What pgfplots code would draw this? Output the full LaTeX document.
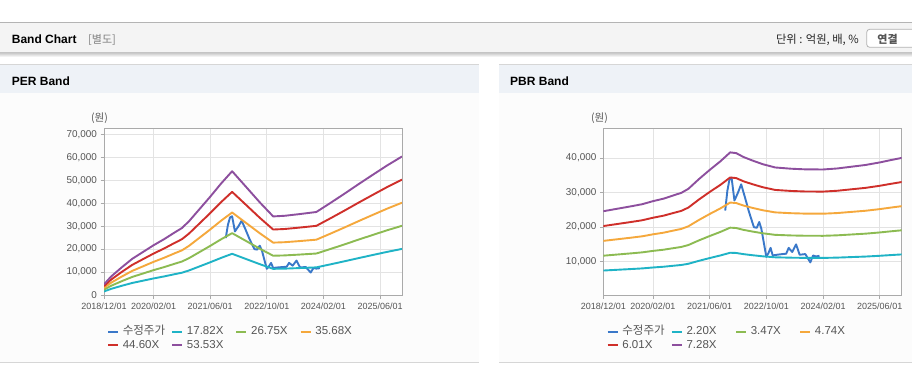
\documentclass[border=0pt]{standalone}
\usepackage{pgfplots}
\pgfplotsset{compat=1.18}
\usepackage{pgfplotstable}
\usepackage{fontspec}
\setmainfont{Liberation Sans}
\newfontfamily\kr{Noto Sans CJK KR}

\definecolor{hdrbg}{HTML}{F4F4F4}
\definecolor{hdrtop}{HTML}{B4B4B4}
\definecolor{hdrbot}{HTML}{C4C4C4}
\definecolor{panelhdr}{HTML}{EEF2F7}
\definecolor{panelbody}{HTML}{FCFCFC}
\definecolor{panelline}{HTML}{D6D6D6}
\definecolor{axisgray}{HTML}{AAAAAA}
\definecolor{gridgray}{HTML}{E3E3E3}
\definecolor{lblgray}{HTML}{555555}
\definecolor{cPrice}{HTML}{3A78C9}
\definecolor{cA}{HTML}{1FB3C6}
\definecolor{cB}{HTML}{8CBB52}
\definecolor{cC}{HTML}{F5A83C}
\definecolor{cD}{HTML}{CF2F2A}
\definecolor{cE}{HTML}{8D4F9E}

% month index: 0 = 2018/12
\pgfplotstableread{
m a b c d e
0 1550 2327 3104 3880 4657
2 2673 4013 5352 6690 8030
5 4010 6019 8028 10035 12044
8 5257 7891 10526 13157 15791
11 6237 9363 12488 15610 18736
14 7217 10834 14450 18063 21680
17 8108 12171 16234 20293 24356
20 9088 13643 18197 22746 27300
22 9712 14579 19446 24307 29174
24 10692 16050 21408 26760 32118
27 12474 18725 24976 31220 37471
30 14256 21400 28544 35680 42824
33 16127 24209 32290 40363 48445
36.2 17963 26964 35965 44957 53958
40 15771 23674 31577 39471 47374
44 13454 20196 26938 33673 40415
47.8 11405 17120 22835 28544 34259
51 11494 17254 23014 28767 34527
55 11726 17602 23477 29347 35223
60 12046 18083 24120 30150 36186
64 13365 20063 26760 33450 40148
68 14719 22096 29472 36840 44216
72 16109 24182 32255 40318 48391
76 17464 26215 34966 43708 52459
80 18800 28221 37642 47053 56474
84.2 20101 30174 40247 50309 60382
}\pertable

\pgfplotstableread{
m a b c d e
0 7436 11729 16021 20314 24606
4 7656 12076 16495 20915 25334
8 7876 12423 16969 21516 26062
11 8052 12700 17348 21997 26645
14 8316 13117 17917 22718 27518
17 8536 13464 18391 23319 28246
20 8844 13949 19055 24160 29266
22 9042 14262 19481 24701 29921
24 9394 14817 20240 25663 31086
27 10252 16170 22088 28007 33925
30 11044 17419 23795 30170 36546
33 11792 18599 25406 32214 39021
35.8 12584 19848 27113 34377 41642
37.5 12518 19744 26971 34197 41423
39.5 12188 19224 26260 33295 40331
42 11880 18738 25596 32454 39312
45 11550 18218 24885 31553 38220
48.5 11264 17766 24269 30771 37274
53 11154 17593 24032 30471 36910
57 11099 17506 23913 30320 36728
62 11088 17489 23890 30290 36691
66 11176 17628 24079 30531 36982
70 11330 17871 24411 30952 37492
74 11484 18113 24743 31372 38002
78 11704 18460 25217 31973 38730
81 11902 18773 25643 32514 39385
84.2 12100 19085 26070 33055 40040
}\pbrtable

\pgfplotstableread{
m p
34.4 24800
35.0 30500
35.6 33800
36.2 34300
37.0 27700
38.0 30000
38.9 32400
40.0 28500
41.0 24800
41.7 22500
42.5 20000
43.3 19800
44.0 21500
44.6 19500
45.2 16000
46.0 11400
46.6 12500
47.2 14000
47.8 11800
49.0 12000
50.5 12200
51.6 12300
52.3 14000
53.3 12800
54.4 15000
55.4 12000
57.0 12200
58.4 9800
59.2 11800
60.0 11500
61.0 11700
}\pricetable

\newcommand\lgtext[1]{\makebox[52pt][l]{\hspace{3.6pt}#1}}

\pgfplotsset{
  bandaxis/.style={
    scale only axis,
    xmin=0, xmax=84.2,
    axis background/.style={fill=white},
    axis line style={draw=axisgray, line width=0.8pt},
    grid=major,
    major grid style={draw=gridgray, line width=0.8pt},
    xtick={0,14,30,46,62,78},
    xticklabels={2018/12/01,2020/02/01,2021/06/01,2022/10/01,2024/02/01,2025/06/01},
    tick align=outside, tick pos=left,
    major tick length=3.5pt,
    tick style={draw=axisgray, line width=0.8pt},
    xticklabel style={font=\fontsize{9}{10}\selectfont, text=lblgray, yshift=-1pt},
    yticklabel style={font=\fontsize{9.9}{11}\selectfont, text=lblgray},
    scaled y ticks=false,
    /pgf/number format/1000 sep={,},
    /pgf/number format/assume math mode=true,
    legend columns=4,
    legend cell align=left,
    legend image code/.code={\draw[##1, line width=2.2pt] (0pt,0pt) -- (10pt,0pt);},
    legend style={draw=none, fill=none, inner sep=0pt, outer sep=0pt,
      anchor=north west, column sep=0pt, row sep=0pt,
      font=\fontsize{11.5}{13}\selectfont,
      nodes={inner xsep=0pt, inner ysep=0pt, text height=9.3pt, text depth=4pt, text=lblgray}},
    every axis plot/.append style={line width=1.9pt, line join=round},
  }
}

\begin{document}
\begin{tikzpicture}
\path[use as bounding box] (0pt,0pt) rectangle (912pt,-364pt);
\fill[white] (0pt,0pt) rectangle (912pt,-364pt);

% top header bar
\shade[top color=black!22, bottom color=white] (0pt,-52.7pt) rectangle (912pt,-57pt);
\fill[hdrbg] (0pt,-22.7pt) rectangle (912pt,-52.7pt);
\draw[hdrtop, line width=1pt] (0pt,-22.7pt) -- (912pt,-22.7pt);
\draw[hdrbot, line width=1pt] (0pt,-52.7pt) -- (912pt,-52.7pt);
\node[anchor=base west, inner sep=0pt] at (11.7pt,-43.3pt) {\fontsize{12}{14}\selectfont\bfseries Band Chart};
\node[anchor=base west, inner sep=0pt, text=black!50] at (88pt,-43.3pt) {\kr\fontsize{11}{13}\selectfont [별도]};
\node[anchor=base east, inner sep=0pt, text=black!85] at (859pt,-43pt) {\kr\fontsize{11.3}{13}\selectfont 단위 : 억원, 배, \%};
\draw[black!30, fill=white, rounded corners=3pt, line width=0.8pt] (866.7pt,-29.3pt) rectangle (925pt,-47.3pt);
\node[anchor=base, inner sep=0pt, text=lblgray] at (887.5pt,-43pt) {\kr\fontsize{11}{13}\selectfont\bfseries 연결};

% panels
\foreach \xa/\xb in {0/479, 499/930}{
  \fill[panelbody] (\xa pt,-64pt) rectangle (\xb pt,-362.5pt);
  \fill[panelhdr] (\xa pt,-64.5pt) rectangle (\xb pt,-92.7pt);
  \draw[panelline, line width=1pt] (\xa pt,-64.3pt) -- (\xb pt,-64.3pt);
  \draw[panelline, line width=1.2pt] (\xa pt,-362.7pt) -- (\xb pt,-362.7pt);
}
\node[anchor=base west, inner sep=0pt] at (11.7pt,-85pt) {\fontsize{12}{14}\selectfont\bfseries PER Band};
\node[anchor=base west, inner sep=0pt] at (510pt,-85pt) {\fontsize{12}{14}\selectfont\bfseries PBR Band};
\node[inner sep=0pt, text=lblgray] at (99.5pt,-118pt) {\kr\fontsize{10.5}{12}\selectfont (원)};
\node[inner sep=0pt, text=lblgray] at (599.5pt,-118pt) {\kr\fontsize{10.5}{12}\selectfont (원)};

% PER axis
\begin{axis}[bandaxis,
  at={(104pt,-295pt)}, anchor=south west,
  width=298pt, height=167pt,
  ymin=0, ymax=72800,
  ytick={0,10000,20000,30000,40000,50000,60000,70000},
  legend style={at={(axis description cs:0.010,-0.182)}},
]
\addplot[cPrice] table[x=m,y=p]{\pricetable};
\addlegendentry{\lgtext{\kr 수정주가}}
\addplot[cA] table[x=m,y=a]{\pertable};
\addlegendentry{\lgtext{17.82X}}
\addplot[cB] table[x=m,y=b]{\pertable};
\addlegendentry{\lgtext{26.75X}}
\addplot[cC] table[x=m,y=c]{\pertable};
\addlegendentry{\lgtext{35.68X}}
\addplot[cD] table[x=m,y=d]{\pertable};
\addlegendentry{\lgtext{44.60X}}
\addplot[cE] table[x=m,y=e]{\pertable};
\addlegendentry{\lgtext{53.53X}}
\end{axis}

% PBR axis
\begin{axis}[bandaxis,
  at={(603.3pt,-295pt)}, anchor=south west,
  width=298.4pt, height=167pt,
  ymin=350, ymax=48700,
  ytick={10000,20000,30000,40000},
  legend style={at={(axis description cs:0.011,-0.182)}},
]
\addplot[cPrice] table[x=m,y=p]{\pricetable};
\addlegendentry{\lgtext{\kr 수정주가}}
\addplot[cA] table[x=m,y=a]{\pbrtable};
\addlegendentry{\lgtext{2.20X}}
\addplot[cB] table[x=m,y=b]{\pbrtable};
\addlegendentry{\lgtext{3.47X}}
\addplot[cC] table[x=m,y=c]{\pbrtable};
\addlegendentry{\lgtext{4.74X}}
\addplot[cD] table[x=m,y=d]{\pbrtable};
\addlegendentry{\lgtext{6.01X}}
\addplot[cE] table[x=m,y=e]{\pbrtable};
\addlegendentry{\lgtext{7.28X}}
\end{axis}
\end{tikzpicture}
\end{document}
